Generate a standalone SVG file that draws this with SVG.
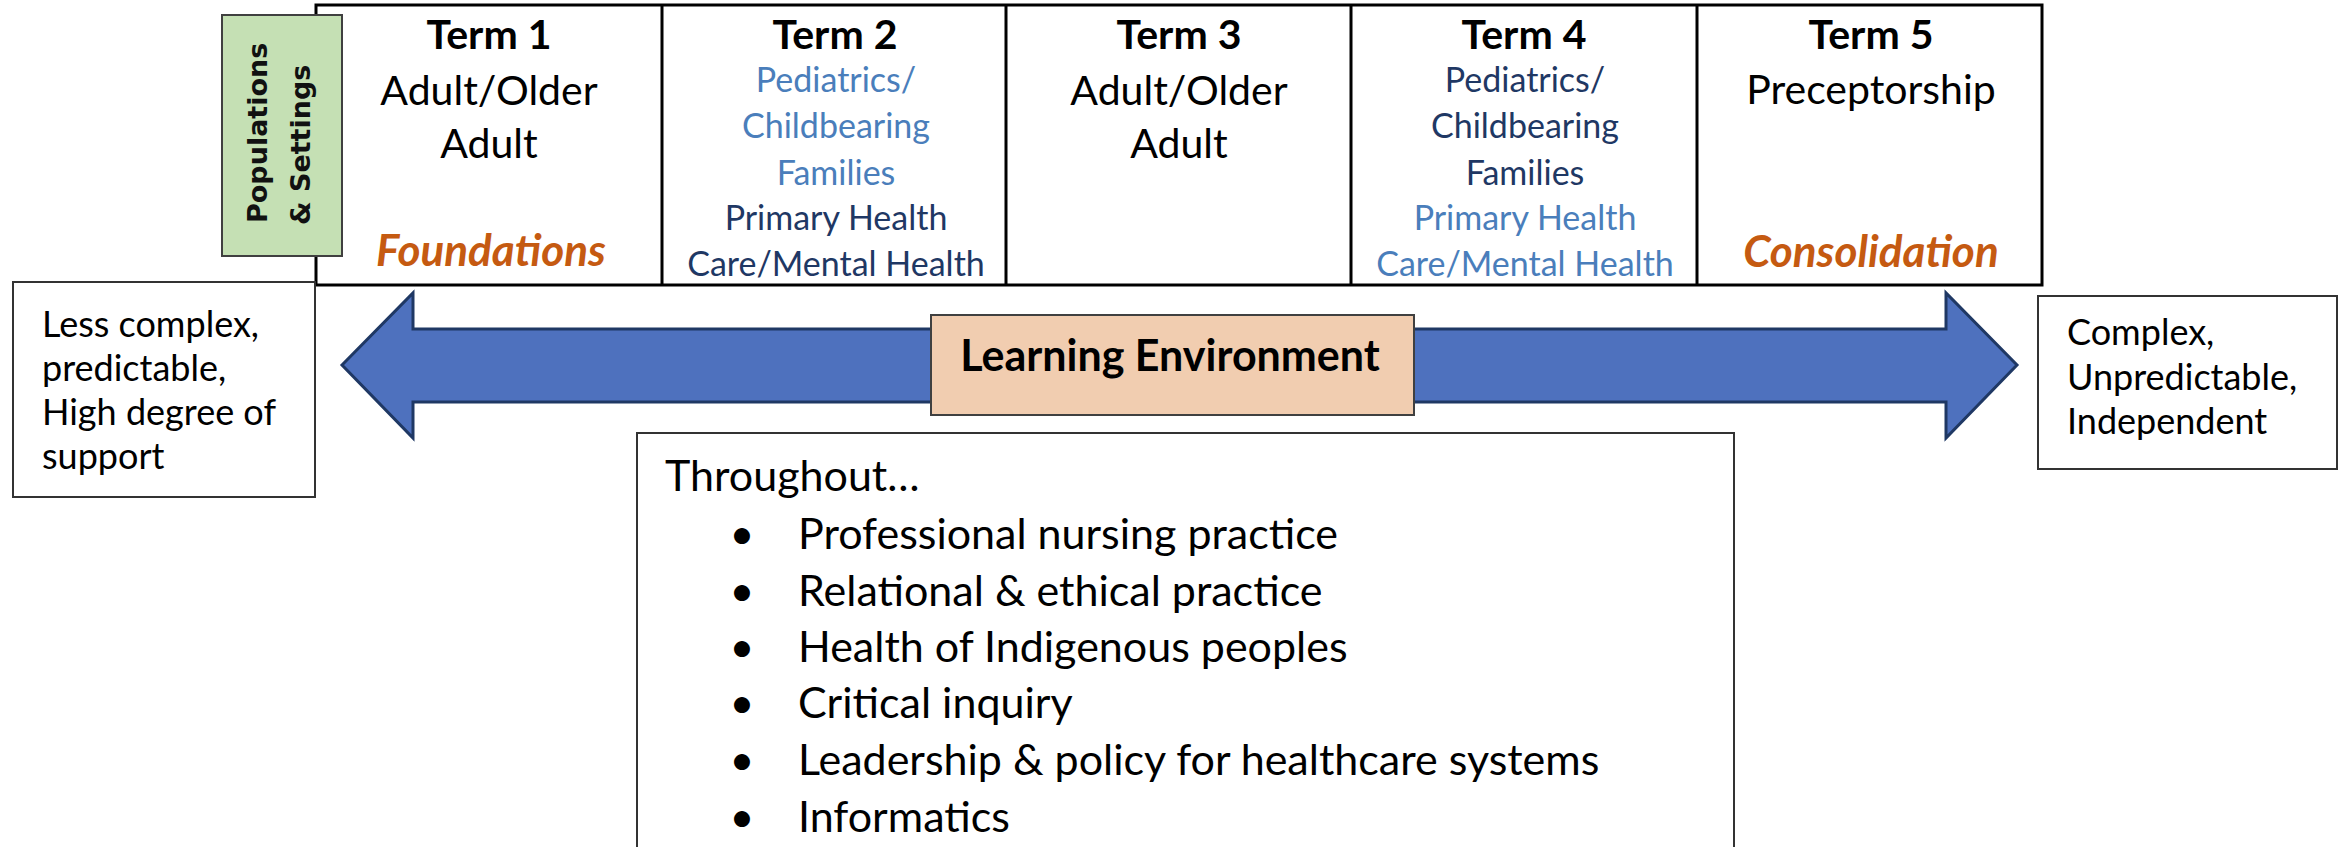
<svg xmlns="http://www.w3.org/2000/svg" width="2346" height="847" viewBox="0 0 2346 847">
<style>
  .t { font-family: Lato, "Liberation Sans", sans-serif; }
  .term { font-family: Lato, "Liberation Sans", sans-serif; font-weight: 700; font-size: 41px; fill: #000; text-anchor: middle; }
  .pop { font-family: Lato, "Liberation Sans", sans-serif; font-size: 41px; fill: #000; text-anchor: middle; }
  .sub { font-family: Lato, "Liberation Sans", sans-serif; font-size: 34px; text-anchor: middle; }
  .light { fill: #4A7EBB; }
  .dark { fill: #1F3864; }
  .phase { font-family: Lato, "Liberation Sans", sans-serif; font-weight: 700; font-style: italic; font-size: 44px; fill: #C55A11; text-anchor: middle; }
  .side { font-family: Lato, "Liberation Sans", sans-serif; font-size: 36px; fill: #000; }
  .list { font-family: Lato, "Liberation Sans", sans-serif; font-size: 43px; fill: #000; }
  .vert { font-family: "DejaVu Sans", Verdana, sans-serif; font-weight: 700; font-size: 27px; fill: #111; }
  .box { fill: #fff; stroke: #333; stroke-width: 2; }
  .cell { fill: #fff; stroke: #000; stroke-width: 3; }
</style>

<g id="connectors">
  <path id="env-arrow" d="M342,365 L413,293 L413,329 L1946,329 L1946,293 L2017,365 L1946,438 L1946,402 L413,402 L413,438 Z" fill="#4E71BE" stroke="#1F3864" stroke-width="3" stroke-linejoin="miter"/>
</g>

<g id="term-table">
  <rect class="cell" x="316" y="5" width="1726" height="280"/>
  <line x1="662" y1="5" x2="662" y2="285" stroke="#000" stroke-width="3"/>
  <line x1="1006" y1="5" x2="1006" y2="285" stroke="#000" stroke-width="3"/>
  <line x1="1351" y1="5" x2="1351" y2="285" stroke="#000" stroke-width="3"/>
  <line x1="1697" y1="5" x2="1697" y2="285" stroke="#000" stroke-width="3"/>
</g>

<g id="term1">
  <text class="term" x="489" y="49">Term 1</text>
  <text class="pop" x="489" y="105">Adult/Older</text>
  <text class="pop" x="489" y="158">Adult</text>
  <text class="phase" x="491" y="266">Foundations</text>
</g>

<g id="term2">
  <text class="term" x="835" y="49">Term 2</text>
  <text class="sub light" x="836" y="92">Pediatrics/</text>
  <text class="sub light" x="836" y="138">Childbearing</text>
  <text class="sub light" x="836" y="185">Families</text>
  <text class="sub dark" x="836" y="230">Primary Health</text>
  <text class="sub dark" x="836" y="276">Care/Mental Health</text>
</g>

<g id="term3">
  <text class="term" x="1179" y="49">Term 3</text>
  <text class="pop" x="1179" y="105">Adult/Older</text>
  <text class="pop" x="1179" y="158">Adult</text>
</g>

<g id="term4">
  <text class="term" x="1524" y="49">Term 4</text>
  <text class="sub dark" x="1525" y="92">Pediatrics/</text>
  <text class="sub dark" x="1525" y="138">Childbearing</text>
  <text class="sub dark" x="1525" y="185">Families</text>
  <text class="sub light" x="1525" y="230">Primary Health</text>
  <text class="sub light" x="1525" y="276">Care/Mental Health</text>
</g>

<g id="term5">
  <text class="term" x="1871" y="49">Term 5</text>
  <text class="pop" x="1871" y="104" font-size="43">Preceptorship</text>
  <text class="phase" x="1871" y="267">Consolidation</text>
</g>

<g id="populations-settings">
  <rect x="222" y="15" width="120" height="241" fill="#C5E0B4" stroke="#404040" stroke-width="2"/>
  <text class="vert" transform="translate(267,223) rotate(-90)">Populations</text>
  <text class="vert" transform="translate(310,225) rotate(-90)">&amp; Settings</text>
</g>

<g id="less-complex">
  <rect class="box" x="13" y="282" width="302" height="215"/>
  <text class="side" x="42" y="337">Less complex,</text>
  <text class="side" x="42" y="381">predictable,</text>
  <text class="side" x="42" y="425">High degree of</text>
  <text class="side" x="42" y="469">support</text>
</g>

<g id="complex">
  <rect class="box" x="2038" y="296" width="299" height="173"/>
  <text class="side" x="2067" y="345">Complex,</text>
  <text class="side" x="2067" y="390">Unpredictable,</text>
  <text class="side" x="2067" y="434">Independent</text>
</g>

<g id="learning-environment">
  <rect x="931" y="315" width="483" height="100" fill="#F1CDB0" stroke="#404040" stroke-width="2"/>
  <text class="t" x="1170" y="371" font-size="43" font-weight="700" text-anchor="middle" fill="#000">Learning Environment</text>
</g>

<g id="throughout">
  <rect class="box" x="637" y="433" width="1097" height="430"/>
  <text class="list" x="665" y="491">Throughout…</text>
  <text class="list" x="742" y="549" text-anchor="middle">•</text>
  <text class="list" x="798" y="549">Professional nursing practice</text>
  <text class="list" x="742" y="606" text-anchor="middle">•</text>
  <text class="list" x="798" y="606">Relational &amp; ethical practice</text>
  <text class="list" x="742" y="662" text-anchor="middle">•</text>
  <text class="list" x="798" y="662">Health of Indigenous peoples</text>
  <text class="list" x="742" y="718" text-anchor="middle">•</text>
  <text class="list" x="798" y="718">Critical inquiry</text>
  <text class="list" x="742" y="775" text-anchor="middle">•</text>
  <text class="list" x="798" y="775">Leadership &amp; policy for healthcare systems</text>
  <text class="list" x="742" y="832" text-anchor="middle">•</text>
  <text class="list" x="798" y="832">Informatics</text>
</g>
</svg>
